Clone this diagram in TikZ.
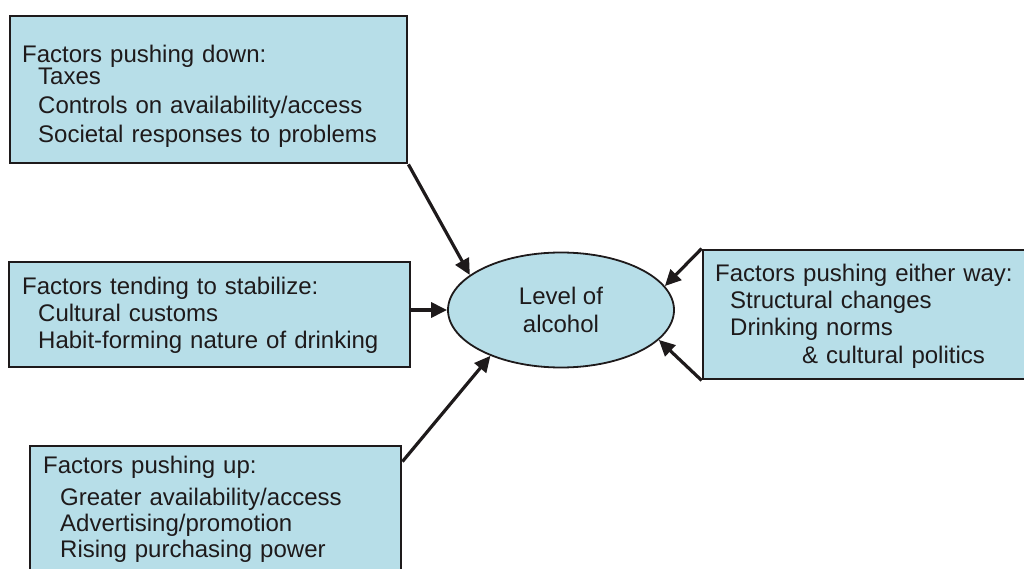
\documentclass[tikz,border=0pt]{standalone}
\usepackage{fontspec}
\setmainfont{Liberation Sans}
\usetikzlibrary{shapes.geometric,arrows.meta}
\definecolor{boxblue}{HTML}{B7DEE8}
\definecolor{ink}{HTML}{1E1A1B}

\begin{document}
\begin{tikzpicture}[x=1pt,y=1pt,
  factor/.style={rectangle,draw=ink,line width=2.8pt,fill=boxblue,inner sep=0pt},
  list/.style={anchor=base west,align=left,text width=360pt,inner sep=0pt,text=ink,
    font=\fontsize{24}{27.5}\selectfont},
  push/.style={draw=ink,line width=3.2pt,-{Triangle[length=16pt,width=15pt]}}]
\useasboundingbox (0,0) rectangle (1024,568);
\clip (0,0) rectangle (1024,568);

% the four groups of factors
\node[factor,minimum width=397pt,minimum height=147pt] (down) at (208.5,478.5) {};
\node[factor,minimum width=401pt,minimum height=105pt] (stab) at (209.5,253.5) {};
\node[factor,minimum width=371pt,minimum height=160pt] (up) at (215.5,42) {};
\node[factor,minimum width=360pt,minimum height=129pt] (either) at (883,253.5) {};

\node[list] (downtxt) at (22,505) {Factors pushing down:\\[-5.5pt]
  \hspace*{16pt}Taxes\\[1.5pt]
  \hspace*{16pt}Controls on availability/access\\[1.5pt]
  \hspace*{16pt}Societal responses to problems};
\node[list] (stabtxt) at (22,273) {Factors tending to stabilize:\\[-1pt]
  \hspace*{16pt}Cultural customs\\
  \hspace*{16pt}Habit-forming nature of drinking};
\node[list] (uptxt) at (43,95) {Factors pushing up:\\[4.5pt]
  \hspace*{17pt}Greater availability/access\\[-1.5pt]
  \hspace*{17pt}Advertising/promotion\\[-1.5pt]
  \hspace*{17pt}Rising purchasing power};
\node[list,text width=300pt] (eithertxt) at (715,287) {Factors pushing either way:\\
  \hspace*{15pt}Structural changes\\
  \hspace*{15pt}Drinking norms\\
  \hspace*{87pt}\& cultural politics};

% the level in the middle
\node[ellipse,draw=ink,line width=1.8pt,fill=boxblue,minimum width=226pt,minimum height=115pt,
  align=center,text=ink,font=\fontsize{24}{28}\selectfont] (lvl) at (561,258) {Level of\\alcohol};

\path[push] (down.south east) -- (lvl.159);
\path[push] ([yshift=4.5pt]stab.east) -- (lvl.180);
\path[push] ([yshift=-17pt]up.north east) -- (lvl.213);
\path[push] (either.north west) -- (lvl.13);
\path[push] (either.south west) -- (lvl.343);
\end{tikzpicture}
\end{document}
